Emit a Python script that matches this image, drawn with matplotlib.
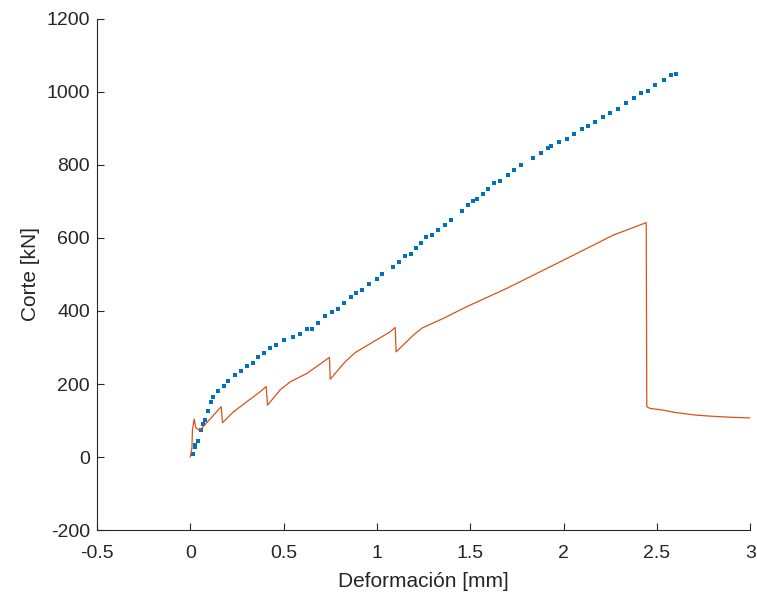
import matplotlib
matplotlib.use('Agg')
import matplotlib.pyplot as plt

# ensayo (puntos azules)
x_ens = [0.013, 0.027, 0.028, 0.041, 0.059, 0.066, 0.080, 0.093, 0.111, 0.123,
         0.150, 0.182, 0.202, 0.241, 0.272, 0.305, 0.337, 0.363, 0.395, 0.427,
         0.459, 0.503, 0.548, 0.588, 0.627, 0.652, 0.684, 0.723, 0.761, 0.793,
         0.825, 0.864, 0.889, 0.921, 0.960, 1.000, 1.025, 1.089, 1.116, 1.153,
         1.185, 1.212, 1.237, 1.264, 1.295, 1.327, 1.366, 1.398, 1.455, 1.487,
         1.514, 1.539, 1.566, 1.598, 1.630, 1.662, 1.702, 1.734, 1.771, 1.836,
         1.880, 1.919, 1.932, 1.978, 2.016, 2.055, 2.101, 2.132, 2.171, 2.210,
         2.248, 2.292, 2.337, 2.376, 2.416, 2.453, 2.492, 2.537, 2.576, 2.601]
y_ens = [9, 27, 34, 43, 75, 91, 101, 127, 150, 164,
         181, 194, 207, 224, 236, 250, 258, 274, 285, 299,
         306, 320, 329, 338, 352, 352, 368, 385, 397, 405,
         421, 438, 450, 458, 475, 488, 501, 521, 534, 550,
         557, 573, 586, 602, 609, 622, 636, 649, 675, 689,
         701, 708, 721, 735, 751, 755, 773, 787, 800, 820,
         833, 846, 853, 863, 872, 886, 899, 906, 919, 932,
         942, 954, 971, 984, 997, 1004, 1020, 1034, 1047, 1050]

# modelo (linea naranja)
x_mod = [0.0, 0.009, 0.012, 0.021, 0.030, 0.045, 0.057, 0.166, 0.173, 0.232,
         0.375, 0.407, 0.414, 0.482, 0.536, 0.625, 0.746, 0.750, 0.830, 0.884,
         0.982, 1.071, 1.098, 1.103, 1.196, 1.241, 1.357, 1.482, 1.696, 2.018,
         2.267, 2.443, 2.446, 2.464, 2.527, 2.598, 2.705, 2.785, 2.893, 3.0]
y_mod = [0, 24, 74, 104, 80, 74, 76, 138, 94, 124,
         179, 193, 142, 184, 206, 229, 273, 213, 261, 286,
         316, 343, 355, 288, 334, 353, 380, 412, 462, 544,
         608, 642, 138, 133, 129, 122, 115, 112, 109, 107]

plt.rcParams['font.family'] = ['Liberation Sans', 'DejaVu Sans']
plt.rcParams['axes.unicode_minus'] = False
gris = '#262626'

fig = plt.figure(figsize=(7.57, 5.96), dpi=100)
ax = fig.add_axes([0.128, 0.1107, 0.863, 0.8575])

ax.plot(x_ens, y_ens, linestyle='none', marker='s', markersize=3.2,
        color='#0072BD', markeredgewidth=0)
ax.plot(x_mod, y_mod, color='#D95319', linewidth=0.9)

ax.set_xlim(-0.5, 3)
ax.set_ylim(-200, 1200)
ax.set_xticks([-0.5, 0, 0.5, 1, 1.5, 2, 2.5, 3])
ax.set_xticklabels(['-0.5', '0', '0.5', '1', '1.5', '2', '2.5', '3'])
ax.set_yticks(range(-200, 1201, 200))

for s in ['top', 'right']:
    ax.spines[s].set_visible(False)
for s in ['left', 'bottom']:
    ax.spines[s].set_color(gris)
    ax.spines[s].set_linewidth(0.8)
ax.tick_params(direction='in', length=5, width=0.8, colors=gris,
               labelsize=14, pad=5)
ax.tick_params(axis='x', pad=11)

ax.set_xlabel('Deformación [mm]', fontsize=15, color=gris, labelpad=7)
ax.set_ylabel('Corte [kN]', fontsize=15, color=gris, labelpad=5)

fig.savefig('out.png', dpi=100)
